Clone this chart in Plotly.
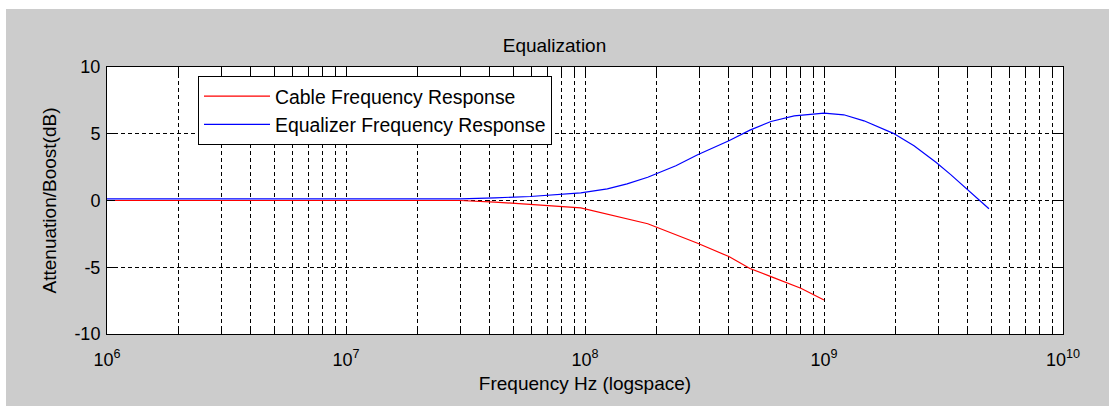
import plotly.graph_objects as go

# Cable attenuation (dB) versus frequency (Hz)
cable_freq_hz = [1e6, 3e7, 4.2e7, 5.9e7, 9.6e7, 1.83e8, 2.96e8, 4.0e8, 4.9e8, 6.0e8, 8.0e8, 1.0e9]
cable_db = [0.0, 0.0, -0.12, -0.3, -0.55, -1.74, -3.2, -4.2, -5.1, -5.7, -6.57, -7.46]

# Equalizer boost (dB) versus frequency (Hz)
eq_freq_hz = [1e6, 3e7, 4.2e7, 5.9e7, 9.6e7, 1.24e8, 1.5e8, 1.83e8, 2.4e8, 2.96e8, 4.0e8, 4.9e8, 6.0e8,
              7.5e8, 1.0e9, 1.21e9, 1.47e9, 1.95e9, 2.38e9, 2.94e9, 3.39e9, 4.04e9, 4.9e9]
eq_db = [0.12, 0.12, 0.2, 0.3, 0.57, 0.87, 1.25, 1.74, 2.6, 3.43, 4.48, 5.27, 5.92,
         6.34, 6.54, 6.42, 5.97, 5.03, 4.1, 2.86, 1.94, 0.75, -0.62]

# Axis ticks
decades = [6, 7, 8, 9]
y_ticks = [-10, -5, 0, 5, 10]

x_tickvals = []
x_ticktext = []
for d in decades:
    for m in range(1, 10):
        x_tickvals.append(m * 10 ** d)
        x_ticktext.append(f"10<sup>{d}</sup>" if m == 1 else "")
x_tickvals.append(10 ** 10)
x_ticktext.append("10<sup>10</sup>")

FONT = "Liberation Sans, Arial, sans-serif"
W, H = 1109, 406
ML, MR, MT, MB = 107, 46, 67, 72
pw = W - ML - MR
ph = H - MT - MB

fig = go.Figure()
fig.add_trace(go.Scatter(x=cable_freq_hz, y=cable_db, mode="lines",
                         name="Cable Frequency Response", legendgroup="a",
                         line=dict(color="#ff0000", width=1.2)))
fig.add_trace(go.Scatter(x=eq_freq_hz, y=eq_db, mode="lines",
                         name="Equalizer Frequency Response", legendgroup="b",
                         line=dict(color="#0000ff", width=1.2)))

axis_common = dict(
    showline=True, linecolor="black", linewidth=1, mirror="allticks",
    ticks="inside", ticklen=8, tickcolor="black", tickwidth=1,
    showgrid=True, gridcolor="black", gridwidth=1, griddash="4px,3px",
    zeroline=False,
    tickfont=dict(family=FONT, size=18, color="black"),
    title_font=dict(family=FONT, size=19, color="black"),
)

fig.update_xaxes(type="log", range=[6, 10], tickmode="array",
                 tickvals=x_tickvals, ticktext=x_ticktext,
                 ticklabelstandoff=9,
                 title_text="Frequency Hz (logspace)", title_standoff=8,
                 **axis_common)
fig.update_yaxes(range=[-10, 10], tickmode="array", tickvals=y_ticks,
                 ticktext=[str(v) for v in y_ticks],
                 ticklabelstandoff=2,
                 title_text="Attenuation/Boost(dB)", title_standoff=12,
                 **axis_common)

# figure frame: grey panel with a thin white strip along the top and left
shapes = [
    dict(type="rect", xref="paper", yref="paper", layer="below",
         x0=-ML / pw - 0.01, x1=(6 - ML) / pw, y0=-MB / ph - 0.01, y1=(H + 5) / ph,
         fillcolor="white", line_width=0),
    dict(type="rect", xref="paper", yref="paper", layer="below",
         x0=-ML / pw - 0.01, x1=(W - ML) / pw + 0.01, y0=(H - MB - 9) / ph, y1=(H - MB + 5) / ph,
         fillcolor="white", line_width=0),
]

fig.update_layout(
    width=W, height=H,
    margin=dict(l=ML, r=MR, t=MT, b=MB),
    paper_bgcolor="#cccccc", plot_bgcolor="white",
    shapes=shapes,
    title=dict(text="Equalization", x=0.5, xanchor="center",
               y=1 - 45 / H, yanchor="middle", yref="container",
               font=dict(family=FONT, size=19, color="black")),
    showlegend=True,
    legend=dict(x=(198 - ML) / pw, y=(H - MB - 76) / ph, xanchor="left", yanchor="top",
                bgcolor="white", bordercolor="black", borderwidth=1,
                font=dict(family=FONT, size=19.4, color="black"),
                itemwidth=66, tracegroupgap=0),
    font=dict(family=FONT, color="black"),
)

fig.write_html("out.html")
